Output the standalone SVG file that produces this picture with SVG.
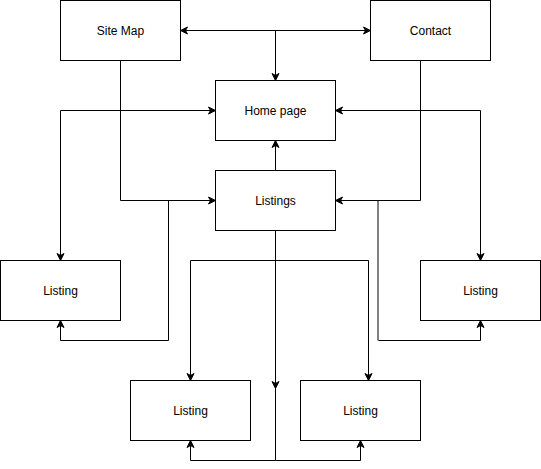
<svg xmlns="http://www.w3.org/2000/svg" width="541" height="469" viewBox="0 0 541 469">
<defs>
<marker id="ar" viewBox="-8 -5 10 10" refX="0" refY="0" markerWidth="10" markerHeight="10" markerUnits="userSpaceOnUse" orient="auto-start-reverse">
<path d="M0,0 L-7,-3.5 L-5,0 L-7,3.5 Z" fill="#000" stroke="#000" stroke-width="1"/>
</marker>
<style>
.n rect{fill:#fff;stroke:#000;stroke-width:1}
.n text{font-family:"Liberation Sans",Arial,Helvetica,sans-serif;font-size:12px;fill:#000;text-anchor:middle;dominant-baseline:central}
.e path{fill:none;stroke:#000;stroke-width:1}
.e .g{stroke:#808080;stroke-width:2}
.e .m{marker-end:url(#ar)}
.e .b{marker-start:url(#ar);marker-end:url(#ar)}
</style>
</defs>
<rect width="541" height="469" fill="#fff"/>
<g class="e" id="connectors">
<path class="b" d="M180.5,30.5 L370.5,30.5"/>
<path class="m" d="M275.5,30.5 L275.5,80.5"/>
<path class="m" d="M120.5,60.5 L120.5,200.5 L215.5,200.5"/>
<path class="m" d="M420.5,60.5 L420.5,200.5 L335.5,200.5"/>
<path class="b" d="M215.5,110.5 L60.5,110.5 L60.5,260.5"/>
<path class="b" d="M335.5,110.5 L480.5,110.5 L480.5,260.5"/>
<path class="m" d="M275.5,170.5 L275.5,140.5"/>
<path class="m" d="M168.5,200.5 L168.5,340.5 L60.5,340.5 L60.5,320.5"/>
<path class="g" d="M378,201 L378,340.5"/>
<path class="m" d="M378.5,340.5 L480.5,340.5 L480.5,320.5"/>
<path d="M275.5,230.5 L275.5,460.5"/>
<path class="m" d="M275.5,260.5 L275.5,388.5"/>
<path class="m" d="M275.5,260.5 L190.5,260.5 L190.5,380.5"/>
<path class="m" d="M275.5,260.5 L368.5,260.5 L368.5,380.5"/>
<path class="m" d="M275.5,460.5 L190.5,460.5 L190.5,440.5"/>
<path class="m" d="M275.5,460.5 L360.5,460.5 L360.5,440.5"/>
</g>
<g class="n" id="sitemap"><rect x="60.5" y="0.5" width="120" height="60"/><text x="120.5" y="30.5">Site Map</text></g>
<g class="n" id="contact"><rect x="370.5" y="0.5" width="120" height="60"/><text x="430.5" y="30.5">Contact</text></g>
<g class="n" id="home"><rect x="215.5" y="80.5" width="120" height="60"/><text x="275.5" y="110.5">Home page</text></g>
<g class="n" id="listings"><rect x="215.5" y="170.5" width="120" height="60"/><text x="275.5" y="200.5">Listings</text></g>
<g class="n" id="listing-left"><rect x="0.5" y="260.5" width="120" height="60"/><text x="60.5" y="290.5">Listing</text></g>
<g class="n" id="listing-right"><rect x="420.5" y="260.5" width="120" height="60"/><text x="480.5" y="290.5">Listing</text></g>
<g class="n" id="listing-bl"><rect x="130.5" y="380.5" width="120" height="60"/><text x="190.5" y="410.5">Listing</text></g>
<g class="n" id="listing-br"><rect x="300.5" y="380.5" width="120" height="60"/><text x="360.5" y="410.5">Listing</text></g>
</svg>
